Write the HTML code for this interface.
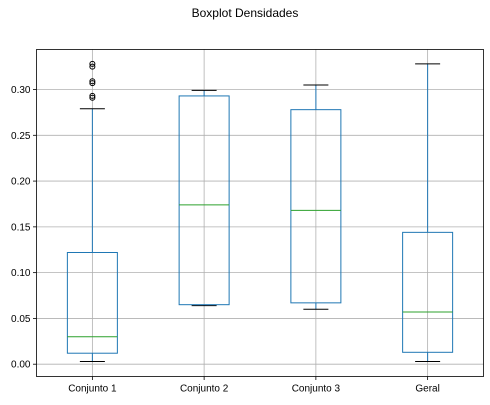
<!DOCTYPE html>
<html><head><meta charset="utf-8"><style>
body{margin:0;background:#fff;width:490px;height:400px;overflow:hidden}
svg{font-family:"Liberation Sans",sans-serif}
</style></head><body>
<svg id="chart" width="490" height="400" xmlns="http://www.w3.org/2000/svg">
<text x="245" y="17" text-anchor="middle" font-size="12" fill="#000">Boxplot Densidades</text>
<g id="grid"></g><g id="marks"></g><g id="axes"></g>
</svg>
<script>
const categories=["Conjunto 1","Conjunto 2","Conjunto 3","Geral"];
const whiskerLow=[0.003,0.064,0.060,0.003];
const q1=[0.012,0.065,0.067,0.013];
const median=[0.030,0.174,0.168,0.057];
const q3=[0.122,0.293,0.278,0.144];
const whiskerHigh=[0.279,0.299,0.305,0.328];
const fliers=[[0.291,0.293,0.307,0.309,0.325,0.328],[],[],[]];
const yTicks=[0,0.05,0.10,0.15,0.20,0.25,0.30];
const yTickLabels=["0.00","0.05","0.10","0.15","0.20","0.25","0.30"];

const L=36.5,R=483.5,T=49.5,B=376.5;
const y0=364.2,pxPerUnit=915.6;
const ys=v=>y0-v*pxPerUnit;
const band=(R-L)/categories.length;
const xs=i=>L+band*(i+0.5);
const NS="http://www.w3.org/2000/svg";
function mk(tag,attrs,parent){const e=document.createElementNS(NS,tag);for(const k in attrs)e.setAttribute(k,attrs[k]);parent.appendChild(e);return e;}
const grid=document.getElementById('grid'),marks=document.getElementById('marks'),axes=document.getElementById('axes');

yTicks.forEach((t,i)=>{
  const y=ys(t);
  let g=mk('line',{x1:L,x2:R,y1:y,y2:y,stroke:'#b0b0b0','stroke-width':0.8},grid);
  
  
  mk('line',{x1:L-3.5,x2:L,y1:y,y2:y,stroke:'#000','stroke-width':0.8},axes);
  let tx=mk('text',{x:L-6,y:y+3.5,'text-anchor':'end','font-size':10,fill:'#000'},axes);
  tx.textContent=yTickLabels[i];
  
  
});
categories.forEach((c,i)=>{
  const x=xs(i);
  let g=mk('line',{x1:x,x2:x,y1:T,y2:B,stroke:'#b0b0b0','stroke-width':0.8},grid);
  
  
  mk('line',{x1:x,x2:x,y1:B,y2:B+3.5,stroke:'#000','stroke-width':0.8},axes);
  let tx=mk('text',{x:x,y:B+15,'text-anchor':'middle','font-size':10,fill:'#000'},axes);
  tx.textContent=c;
  
  

  const bw=50,cw=25;
  const g2=mk('g',{},marks);
  
  
  mk('line',{x1:x,x2:x,y1:ys(q1[i]),y2:ys(whiskerLow[i]),stroke:'#1f77b4','stroke-width':1},g2);
  mk('line',{x1:x,x2:x,y1:ys(q3[i]),y2:ys(whiskerHigh[i]),stroke:'#1f77b4','stroke-width':1},g2);
  mk('line',{x1:x-cw/2,x2:x+cw/2,y1:ys(whiskerLow[i]),y2:ys(whiskerLow[i]),stroke:'#000','stroke-width':1},g2);
  mk('line',{x1:x-cw/2,x2:x+cw/2,y1:ys(whiskerHigh[i]),y2:ys(whiskerHigh[i]),stroke:'#000','stroke-width':1},g2);
  mk('rect',{x:x-bw/2,y:ys(q3[i]),width:bw,height:ys(q1[i])-ys(q3[i]),fill:'none',stroke:'#1f77b4','stroke-width':1},g2);
  mk('line',{x1:x-bw/2,x2:x+bw/2,y1:ys(median[i]),y2:ys(median[i]),stroke:'#2ca02c','stroke-width':1},g2);
  fliers[i].forEach(f=>{
    const fc=mk('circle',{cx:x,cy:ys(f),r:2.5,fill:'none',stroke:'#000','stroke-width':1},g2);
    
    
  });
});
const frame=mk('rect',{x:L,y:T,width:R-L,height:B-T,fill:'none',stroke:'#000','stroke-width':0.8},axes);


</script>
</body></html>
